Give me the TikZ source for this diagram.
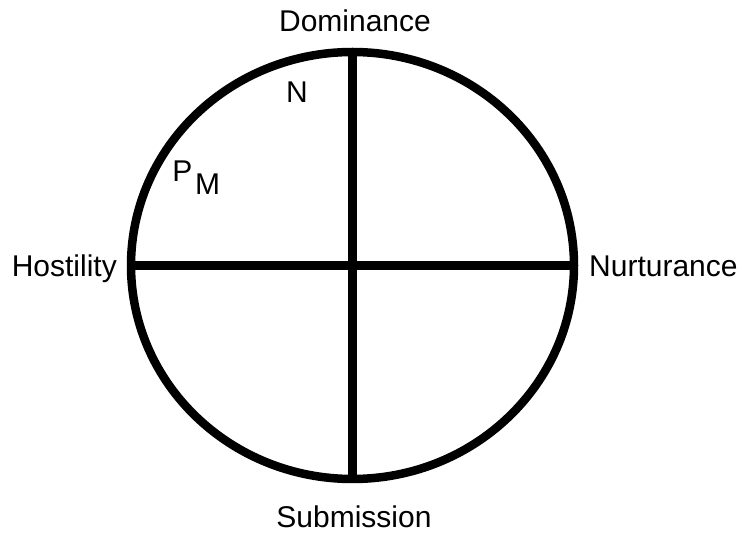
\documentclass[tikz,border=0pt]{standalone}
\usepackage{fontspec}
\setmainfont{Liberation Sans}
\usetikzlibrary{positioning}

\begin{document}
\begin{tikzpicture}[x=1pt,y=-1pt,
  axis/.style={line width=8.5pt},
  lbl/.style={font=\fontsize{30}{35}\selectfont,inner sep=0pt}]
\useasboundingbox (0,0) rectangle (737,534);
\coordinate (C) at (352.5,265.5);
\coordinate (T) at (352.5,52);
\coordinate (B) at (352.5,479);
\coordinate (L) at (131,265.5);
\coordinate (R) at (574,265.5);
\draw[axis] (C) ellipse [x radius=221.5,y radius=213.5];
\draw[axis] (T) -- (B);
\draw[axis] (L) -- (R);
\node[lbl,anchor=base] (dom) at (355,32) {Dominance};
\node[lbl,anchor=base] (sub) at (354,528) {Submission};
\node[lbl,anchor=base east] (hos) at (117,277) {Hostility};
\node[lbl,anchor=base west] (nur) at (589,277) {Nurturance};
\node[lbl,anchor=base] (n) at (297,103) {N};
\node[lbl,anchor=base] (p) at (182.5,182) {P};
\node[lbl,anchor=base] (m) at (207.5,195) {M};
\end{tikzpicture}
\end{document}
